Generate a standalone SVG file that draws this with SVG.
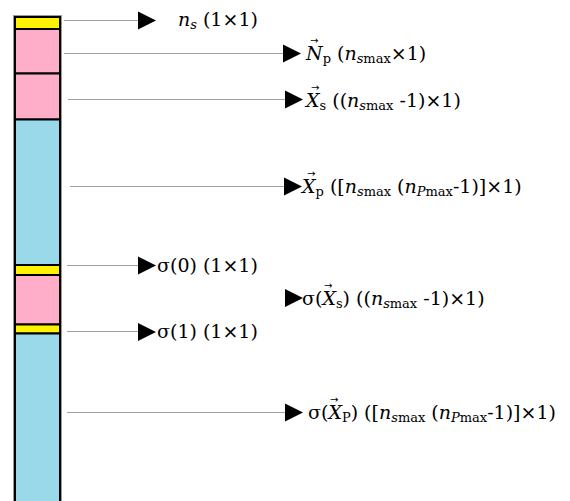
<svg xmlns="http://www.w3.org/2000/svg" width="570" height="501" viewBox="0 0 570 501">
  <style>
    .cell { stroke: #000; stroke-width: 2; }
    .y { fill: #fff200; }
    .p { fill: #ffaec9; }
    .b { fill: #99d9ea; }
    .lead { stroke: #a0a0a0; stroke-width: 1; fill: none; }
    .head { fill: #000; }
    text { font-family: "DejaVu Serif", "Liberation Serif", serif; font-size: 19px; fill: #000; }
    .i { font-style: italic; }
    .s { font-size: 13px; }
    .vec { font-family: "DejaVu Sans", sans-serif; font-size: 10px; }
  </style>
  <defs>
    <polygon id="tri" points="0,-9 18,0 0,9" class="head"/>
  </defs>

  <!-- stacked vector -->
  <g id="stack">
    <rect x="13.5" y="15.5" width="48" height="490" fill="none" stroke="#9a9a9a" stroke-width="1"/>
    <rect class="cell y" x="15" y="17" width="45" height="12"/>
    <rect class="cell p" x="15" y="29" width="45" height="44.5"/>
    <rect class="cell p" x="15" y="73.5" width="45" height="46"/>
    <rect class="cell b" x="15" y="119.5" width="45" height="145.5"/>
    <rect class="cell y" x="15" y="265" width="45" height="10"/>
    <rect class="cell p" x="15" y="275" width="45" height="49.5"/>
    <rect class="cell y" x="15" y="324.5" width="45" height="9"/>
    <rect class="cell b" x="15" y="333.5" width="45" height="180"/>
  </g>

  <!-- leader lines with arrowheads -->
  <g id="connectors">
    <line class="lead" x1="64" y1="20.5" x2="138" y2="20.5"/>
    <use href="#tri" x="138" y="20.5"/>
    <line class="lead" x1="64" y1="53.5" x2="283" y2="53.5"/>
    <use href="#tri" x="283" y="53.5"/>
    <line class="lead" x1="68" y1="99.5" x2="285" y2="99.5"/>
    <use href="#tri" x="285" y="99.5"/>
    <line class="lead" x1="70" y1="186.5" x2="284" y2="186.5"/>
    <use href="#tri" x="284" y="186.5"/>
    <line class="lead" x1="67" y1="265.5" x2="138" y2="265.5"/>
    <use href="#tri" x="138" y="265.5"/>
    <use href="#tri" x="285" y="298"/>
    <line class="lead" x1="67" y1="331.5" x2="138" y2="331.5"/>
    <use href="#tri" x="138" y="332"/>
    <line class="lead" x1="67" y1="412.5" x2="285" y2="412.5"/>
    <use href="#tri" x="285" y="412.5"/>
  </g>

  <g id="label-ns">
    <text x="178" y="26"><tspan class="i">n</tspan><tspan class="i s" dy="3">s</tspan><tspan dy="-3"> (1×1)</tspan></text>
  </g>

  <g id="label-Np">
    <text x="306" y="60"><tspan class="i">N</tspan><tspan class="s" dy="3">p</tspan><tspan dy="-3"> (</tspan><tspan class="i">n</tspan><tspan class="i s" dy="3">s</tspan><tspan class="s">max</tspan><tspan dy="-3">×1)</tspan></text>
    <text class="vec" x="310" y="44">→</text>
  </g>

  <g id="label-Xs">
    <text x="306" y="107"><tspan class="i">X</tspan><tspan class="s" dy="3">s</tspan><tspan dy="-3"> ((</tspan><tspan class="i">n</tspan><tspan class="i s" dy="3">s</tspan><tspan class="s">max</tspan><tspan dy="-3"> -1)×1)</tspan></text>
    <text class="vec" x="311" y="91">→</text>
  </g>

  <g id="label-Xp">
    <text x="302" y="193"><tspan class="i">X</tspan><tspan class="s" dy="3">p</tspan><tspan dy="-3"> ([</tspan><tspan class="i">n</tspan><tspan class="i s" dy="3">s</tspan><tspan class="s">max</tspan><tspan dy="-3"> (</tspan><tspan class="i">n</tspan><tspan class="i s" dy="3">P</tspan><tspan class="s">max</tspan><tspan dy="-3">-1)]×1)</tspan></text>
    <text class="vec" x="307" y="177">→</text>
  </g>

  <g id="label-sigma0">
    <text x="157" y="272">σ(0) (1×1)</text>
  </g>

  <g id="label-sigmaXs">
    <text x="302" y="305">σ(<tspan class="i">X</tspan><tspan class="s" dy="3">s</tspan><tspan dy="-3">) ((</tspan><tspan class="i">n</tspan><tspan class="i s" dy="3">s</tspan><tspan class="s">max</tspan><tspan dy="-3"> -1)×1)</tspan></text>
    <text class="vec" x="324" y="289">→</text>
  </g>

  <g id="label-sigma1">
    <text x="157" y="338">σ(1) (1×1)</text>
  </g>

  <g id="label-sigmaXP">
    <text x="308" y="419">σ(<tspan class="i">X</tspan><tspan class="s" dy="3">P</tspan><tspan dy="-3">) ([</tspan><tspan class="i">n</tspan><tspan class="i s" dy="3">s</tspan><tspan class="s">max</tspan><tspan dy="-3"> (</tspan><tspan class="i">n</tspan><tspan class="i s" dy="3">P</tspan><tspan class="s">max</tspan><tspan dy="-3">-1)]×1)</tspan></text>
    <text class="vec" x="330" y="403">→</text>
  </g>
</svg>
